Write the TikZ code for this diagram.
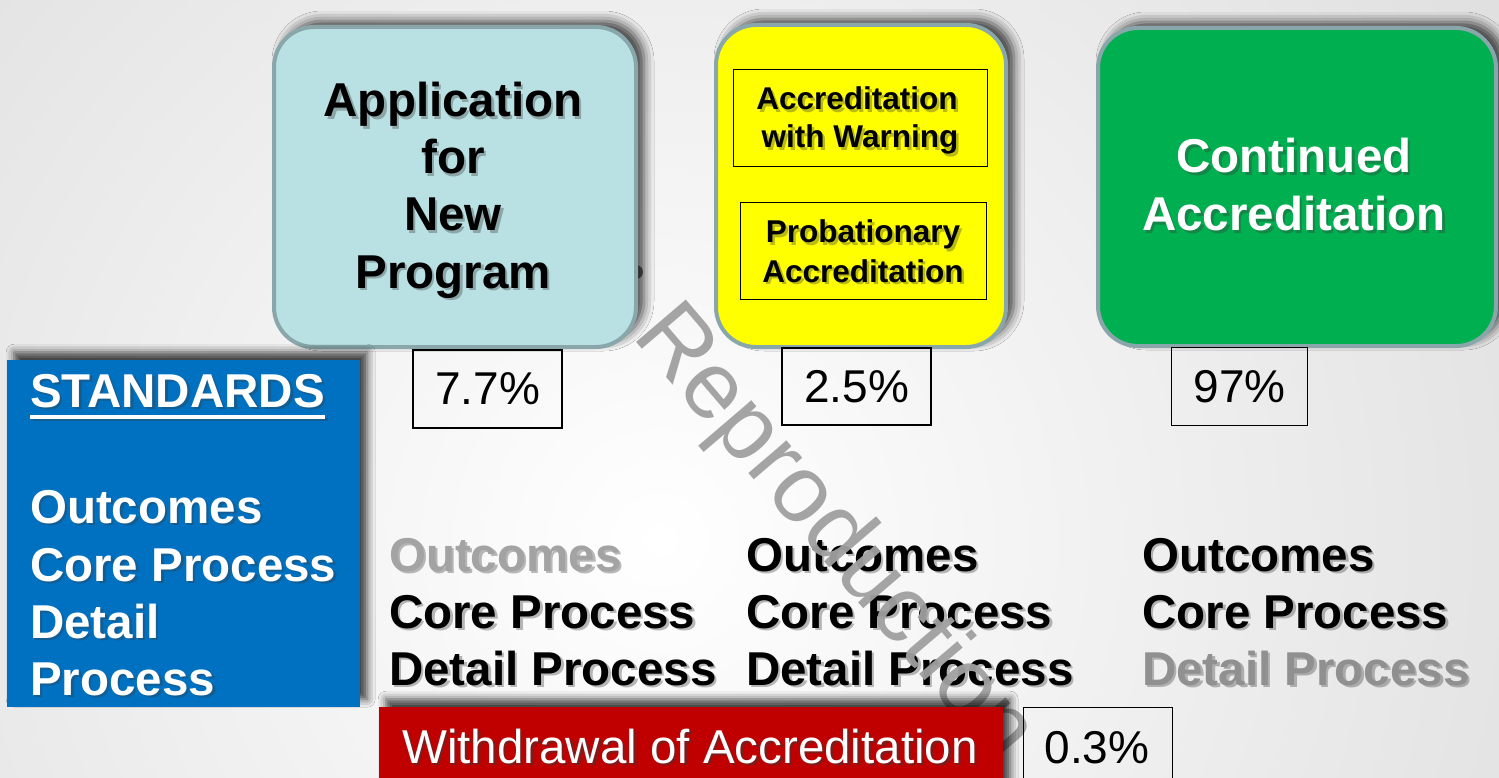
\documentclass[tikz,border=0pt]{standalone}
\usepackage{fontspec}
\setmainfont{Liberation Sans}
\usetikzlibrary{calc,shadows.blur}
\definecolor{appfill}{HTML}{B9E0E3}
\definecolor{boxedge}{HTML}{89A7AA}
\definecolor{yel}{HTML}{FFFF00}
\definecolor{grn}{HTML}{00AF50}
\definecolor{blu}{HTML}{0070C0}
\definecolor{redd}{HTML}{C00000}
\definecolor{dimtext}{HTML}{A3A3A3}
\definecolor{dimtextb}{HTML}{909090}
\definecolor{wmark}{HTML}{A0A0A0}
\definecolor{bgouter}{HTML}{C8C8C8}
\definecolor{shadowc}{HTML}{3A3A3A}
\definecolor{markc}{HTML}{6E6E6E}
\newcommand\bigfont{\bfseries\fontsize{47.5}{57}\selectfont}
\newcommand\midfont{\bfseries\fontsize{31.5}{38}\selectfont}
\newcommand\pctfont{\fontsize{46}{55}\selectfont}
\newcommand\redfont{\fontsize{47.5}{57}\selectfont}
\newcommand\wmfont{\fontsize{95}{110}\selectfont}
% shadowed text: name, x, y, anchor, style, text
\newcommand\stx[6]{%
  \node[#5, anchor=#4, text=shadowc, opacity=.35] at (#2+2.5,#3+2.5) {#6};
  \node[#5, anchor=#4] (#1) at (#2,#3) {#6};}
\tikzset{
  rbox/.style={draw=boxedge, line width=4pt, rounded corners=40pt, anchor=north west,
    blur shadow={shadow xshift=8pt, shadow yshift=6pt, shadow blur radius=10pt, shadow opacity=75}},
  flatbox/.style={anchor=north west, inner sep=0pt,
    blur shadow={shadow xshift=7pt, shadow yshift=8pt, shadow blur radius=8pt, shadow opacity=75}},
  pct/.style={draw=black, line width=1.3pt, inner sep=0pt, font=\pctfont},
  inbox/.style={draw=black, line width=1.3pt, anchor=north west, inner sep=0pt},
  bigtxt/.style={inner sep=0pt, font=\bigfont, text=black},
  bigwhite/.style={inner sep=0pt, font=\bigfont, text=white},
  bigdim/.style={inner sep=0pt, font=\bigfont, text=dimtext},
  bigdimb/.style={inner sep=0pt, font=\bigfont, text=dimtextb},
  midtxt/.style={inner sep=0pt, font=\midfont, text=black},
  wm/.style={inner sep=0pt, font=\wmfont, text=wmark, opacity=.95},
}
\begin{document}
\begin{tikzpicture}[x=1pt,y=-1pt]
\useasboundingbox (0,0) rectangle (1499,778);
\clip (0,0) rectangle (1499,778);
% background
\fill[bgouter] (0,0) rectangle (1499,778);
\shade[inner color=white, outer color=bgouter] (660,540) circle (1750);

% column texts
\stx{c1a}{389}{571}{base west}{bigdim}{Outcomes}
\stx{c1b}{389}{628}{base west}{bigtxt}{Core Process}
\stx{c1c}{389}{685}{base west}{bigtxt}{Detail Process}
\stx{c2a}{746}{571}{base west}{bigtxt}{Outcomes}
\stx{c2b}{746}{628}{base west}{bigtxt}{Core Process}
\stx{c2c}{746}{685}{base west}{bigtxt}{Detail Process}
\stx{c3a}{1142}{571}{base west}{bigtxt}{Outcomes}
\stx{c3b}{1142}{628}{base west}{bigtxt}{Core Process}
\stx{c3c}{1142}{685}{base west}{bigdimb}{Detail Process}

% watermark
\node[wm, rotate=-49.5, anchor=base west] (wmk) at (631,336) {Reproduction};
\fill[markc] (636,272) circle (7);

% top boxes
\node[rbox, fill=appfill, minimum width=362pt, minimum height=320pt] (app) at (272,25) {};
\stx{a1}{453}{117}{base}{bigtxt}{Application}
\stx{a2}{453}{174}{base}{bigtxt}{for}
\stx{a3}{453}{231}{base}{bigtxt}{New}
\stx{a4}{453}{288}{base}{bigtxt}{Program}

\node[rbox, fill=yel, minimum width=290pt, minimum height=322pt] (warn) at (714,23) {};
\node[inbox, minimum width=254pt, minimum height=97pt] (wbox) at (733,69) {};
\node[inbox, minimum width=246pt, minimum height=97pt] (pbox) at (740,202) {};
\stx{y1}{857}{110}{base}{midtxt}{Accreditation}
\stx{y2}{860}{148}{base}{midtxt}{with Warning}
\stx{y3}{863}{243}{base}{midtxt}{Probationary}
\stx{y4}{863}{282}{base}{midtxt}{Accreditation}

\node[rbox, fill=grn, minimum width=398pt, minimum height=318pt] (cont) at (1096,26) {};
\stx{g1}{1294}{173}{base}{bigwhite}{Continued}
\stx{g2}{1294}{231}{base}{bigwhite}{Accreditation}

% percentages
\node[pct, minimum width=149pt, minimum height=78pt] (p1) at (487.5,389) {7.7\%};
\node[pct, minimum width=149pt, minimum height=77pt] (p2) at (856.5,386.5) {2.5\%};
\node[pct, minimum width=136pt, minimum height=78pt] (p3) at (1239.5,386.5) {97\%};

% standards box
\node[flatbox, fill=blu, minimum width=353pt, minimum height=347pt] (std) at (7,360) {};
\stx{s0}{30}{407}{base west}{bigwhite}{STANDARDS}
\draw[shadowc, opacity=.35, line width=3.5pt] ($(s0.base west)+(2.5,12.5)$) -- ($(s0.base east)+(2.5,12.5)$);
\draw[white, line width=3.5pt] ($(s0.base west)+(0,10)$) -- ($(s0.base east)+(0,10)$);
\stx{s1}{30}{523}{base west}{bigwhite}{Outcomes}
\stx{s2}{30}{581}{base west}{bigwhite}{Core Process}
\stx{s3}{30}{638}{base west}{bigwhite}{Detail}
\stx{s4}{30}{695}{base west}{bigwhite}{Process}

% withdrawal
\node[flatbox, fill=redd, minimum width=624pt, minimum height=90pt] (wd) at (379,707) {};
\node[inner sep=0pt, font=\redfont, text=shadowc, opacity=.5, anchor=base] at (692.5,765.5) {Withdrawal of Accreditation};
\node[inner sep=0pt, font=\redfont, text=white, anchor=base] (wdt) at (690,763) {Withdrawal of Accreditation};
\node[pct, minimum width=149pt, minimum height=90pt, anchor=north west] (p4) at (1023,707) {};
\node[inner sep=0pt, font=\pctfont, anchor=base] (p4t) at (1097,763) {0.3\%};
\end{tikzpicture}
\end{document}
